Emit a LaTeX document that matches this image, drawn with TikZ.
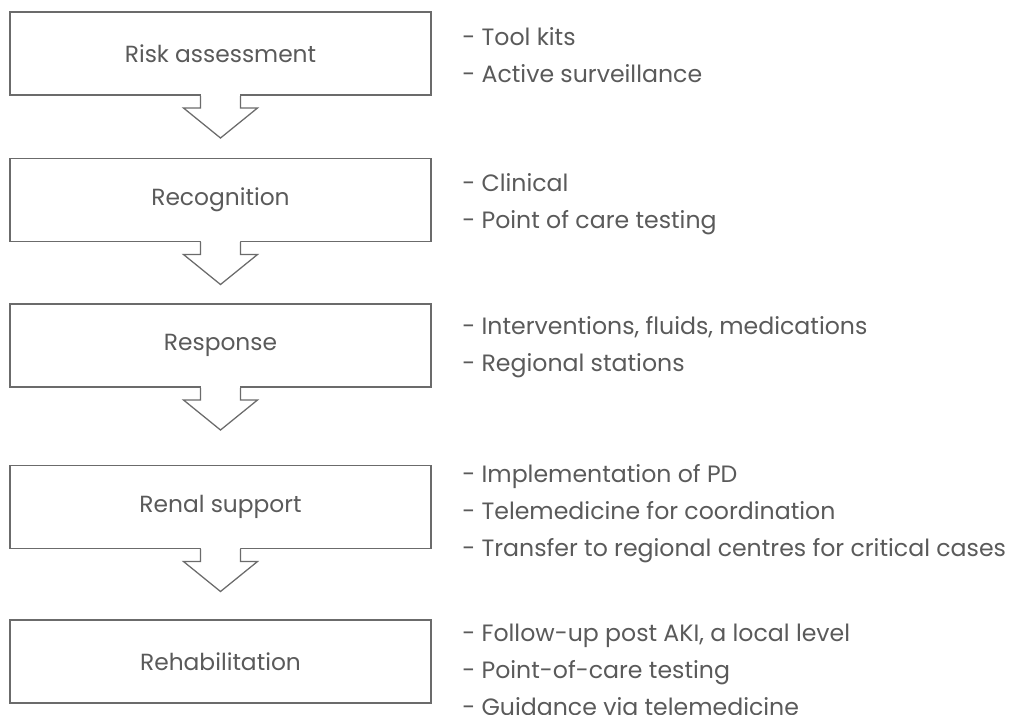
\documentclass[tikz,border=0pt]{standalone}
\usepackage{fontspec}
\setmainfont{Poppins}
\usetikzlibrary{positioning,calc}
\definecolor{linegray}{HTML}{6B6B6B}
\definecolor{textgray}{HTML}{5A5A5A}

\begin{document}
\begin{tikzpicture}[x=0.025cm,y=-0.025cm,
    stage/.style={draw=linegray,line width=0.9pt,fill=white,outer sep=0pt,inner sep=0pt,
      minimum width=10.525cm,minimum height=2.075cm,text=textgray,font=\fontsize{16.6}{20}\selectfont},
    notes/.style={anchor=west,align=left,inner sep=0pt,text=textgray,font=\fontsize{16.8}{26.3}\selectfont},
    flow/.style={draw=linegray,line width=0.9pt,fill=white,line join=miter}]
  \useasboundingbox (0,0) rectangle (1012,715);
  % stages
  \node[stage] (risk)  at (220.5,53.5)  {Risk assessment};
  \node[stage] (recog) at (220.5,200)   {Recognition};
  \node[stage] (resp)  at (220.5,345.5) {Response};
  \node[stage] (renal) at (220.5,507)   {Renal support};
  \node[stage] (rehab) at (220.5,661.5) {Rehabilitation};
  % hollow arrows between stages
  \foreach \a in {risk,recog,resp,renal}{
    \draw[flow] ($(\a.south)+(-20,0)$) -- ++(0,13) -- ++(-17,0) -- ++(37,30) -- ++(37,-30) -- ++(-17,0) -- ++(0,-13);
    \draw[white,line width=1.2pt] ($(\a.south)+(-19.4,0)$) -- ($(\a.south)+(19.4,0)$);
  }
  % notes on the right
  \node[notes] (risknotes)  at (462,55)    {- Tool kits\\- Active surveillance};
  \node[notes] (recognotes) at (462,204)   {- Clinical\\- Point of care testing};
  \node[notes] (respnotes)  at (462,347)   {- Interventions, fluids, medications\\- Regional stations};
  \node[notes] (renalnotes) at (462,513.5) {- Implementation of PD\\- Telemedicine for coordination\\- Transfer to regional centres for critical cases};
  \node[notes] (rehabnotes) at (462,670)   {- Follow-up post AKI, a local level\\- Point-of-care testing\\- Guidance via telemedicine};
\end{tikzpicture}
\end{document}
